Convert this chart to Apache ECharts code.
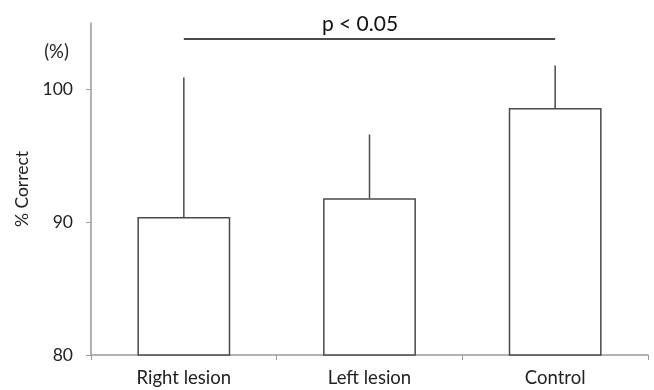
<!DOCTYPE html>
<html>
<head>
<meta charset="utf-8">
<script src="https://cdn.jsdelivr.net/npm/echarts@6/dist/echarts.min.js"></script>
<style>
  html, body { margin: 0; padding: 0; background: #fff; }
  #chart { width: 654px; height: 390px; }
</style>
</head>
<body>
<div id="chart"></div>
<script>
// groups and values
const categories = ['Right lesion', 'Left lesion', 'Control']
const means = [90.4, 91.8, 98.6]
const errorTops = [100.9, 96.6, 101.8]
const yTicks = [80, 90, 100]
const sigLevel = 103.8
const sigText = 'p < 0.05'

const chart = echarts.init(document.getElementById('chart'))
const lineColor = '#4a4a4a'
const font = 'Lato, "Open Sans", sans-serif'

chart.setOption({
  animation: false,
  textStyle: { fontFamily: font },
  grid: { left: 91, right: 6, top: 23, bottom: 35 },
  xAxis: {
    type: 'category',
    data: categories,
    axisLine: { lineStyle: { color: '#9a9a9a', width: 1.5 } },
    axisTick: { show: true, length: 5, lineStyle: { color: '#9a9a9a' } },
    axisLabel: { color: '#222', fontSize: 18.5, margin: 14, fontFamily: font }
  },
  yAxis: {
    type: 'value',
    min: 80,
    max: 105,
    interval: 10,
    name: '% Correct',
    nameLocation: 'middle',
    nameGap: 58,
    nameTextStyle: { color: '#222', fontSize: 17.5, fontFamily: font },
    splitLine: { show: false },
    axisLine: { show: true, lineStyle: { color: '#9a9a9a', width: 1.5 } },
    axisTick: { show: true, length: 5, customValues: yTicks, lineStyle: { color: '#9a9a9a' } },
    axisLabel: { color: '#222', fontSize: 17.5, margin: 18, customValues: yTicks, fontFamily: font }
  },
  graphic: [
    {
      type: 'text',
      x: 56.5,
      y: 52,
      style: {
        text: '(%)', fill: '#222', fontSize: 18.5, fontFamily: font,
        align: 'center', verticalAlign: 'middle'
      }
    },
    {
      type: 'text',
      x: 360,
      y: 24,
      style: {
        text: sigText, fill: '#111', fontSize: 21, fontFamily: font,
        align: 'center', verticalAlign: 'middle'
      }
    }
  ],
  series: [
    {
      type: 'bar',
      data: means,
      barWidth: '50%',
      itemStyle: { color: '#fff', borderColor: lineColor, borderWidth: 1.5 },
      markLine: {
        silent: true,
        symbol: ['none', 'none'],
        lineStyle: { color: lineColor, width: 2, type: 'solid' },
        label: { show: false },
        data: [[
          { coord: [categories[0], sigLevel] },
          { coord: [categories[2], sigLevel] }
        ]]
      }
    },
    {
      type: 'custom',
      data: categories.map((c, i) => [i, means[i], errorTops[i]]),
      renderItem: function (params, api) {
        const p0 = api.coord([api.value(0), api.value(1)])
        const p1 = api.coord([api.value(0), api.value(2)])
        return {
          type: 'line',
          shape: { x1: p0[0], y1: p0[1], x2: p1[0], y2: p1[1] },
          style: { stroke: lineColor, lineWidth: 1.5 }
        }
      },
      z: 3
    }
  ]
})
</script>
</body>
</html>
